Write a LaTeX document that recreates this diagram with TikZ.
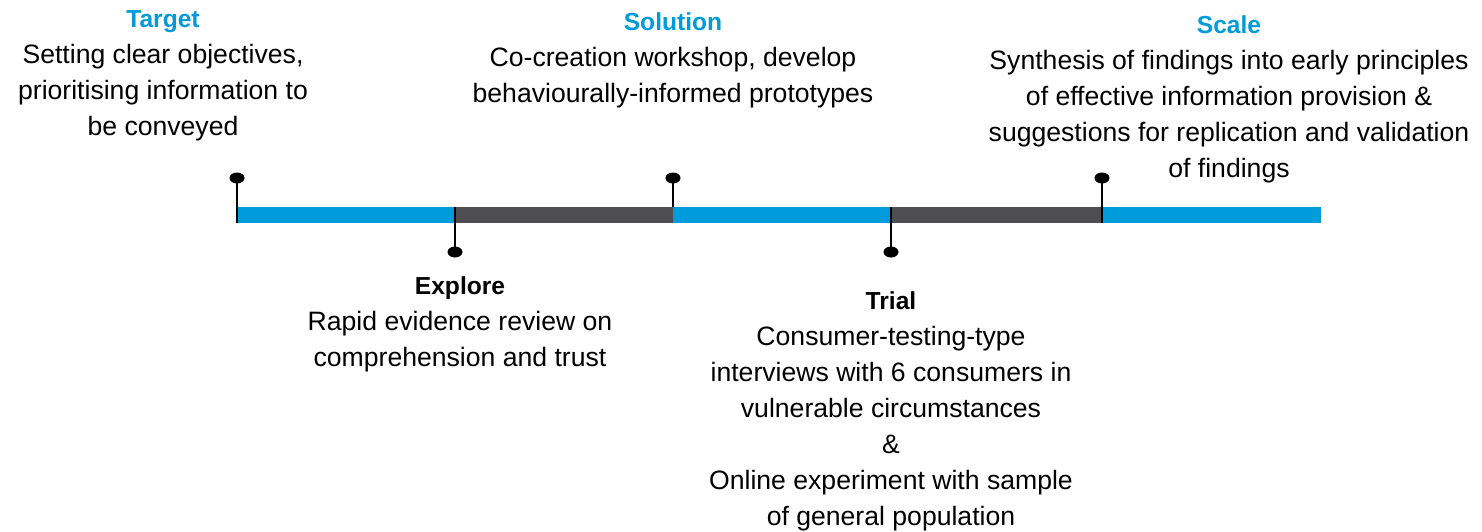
\documentclass[tikz,border=0pt]{standalone}
\usepackage{fontspec}
\setmainfont{Liberation Sans}
\usetikzlibrary{positioning,shapes.geometric}
\definecolor{stepblue}{RGB}{0,155,219}
\definecolor{stepgray}{RGB}{77,77,82}
\newcommand{\stagetitle}[1]{{\fontsize{12.3}{18}\selectfont\bfseries #1}}
\tikzset{
  pindot/.style = {ellipse, fill = black, inner sep = 0pt,
                   minimum width = 7.5pt, minimum height = 5.5pt},
  pinline/.style = {line width = 1pt, draw = black},
  stage/.style = {align = center, inner sep = 0pt, anchor = base,
                  font = \fontsize{13.3}{18}\selectfont}
}
\begin{document}
\begin{tikzpicture}[x = 0.5pt, y = -0.5pt]
            \useasboundingbox (0, 0) rectangle (1482, 531);

            % timeline bar
            \fill [stepblue] (237, 207) rectangle (455, 223);
            \fill [stepgray] (455, 207) rectangle (673, 223);
            \fill [stepblue] (673, 207) rectangle (891, 223);
            \fill [stepgray] (891, 207) rectangle (1102, 223);
            \fill [stepblue] (1102, 207) rectangle (1321, 223);

            % pins
            \foreach \x/\y/\e [count = \i] in
                  {237/178/223, 455/252/207, 673/178/207,
                   891/252/207, 1102/178/223} {
                \coordinate (bar\i) at (\x, \e);
                \node [pindot] (pin\i) at (\x, \y) {};
                \draw [pinline] (pin\i.center) -- (bar\i);
            }

            % texts, anchored at the baseline of their last line
            \node [stage] (target) at (163, 135)
                  {\textcolor{stepblue}{\stagetitle{Target}}\\
                   Setting clear objectives,\\
                   prioritising information to\\
                   be conveyed};

            \node [stage] (explore) at (460, 366)
                  {\stagetitle{Explore}\\
                   Rapid evidence review on\\
                   comprehension and trust};

            \node [stage] (solution) at (673, 102)
                  {\textcolor{stepblue}{\stagetitle{Solution}}\\
                   Co-creation workshop, develop\\
                   behaviourally-informed prototypes};

            \node [stage] (trial) at (891, 525)
                  {\stagetitle{Trial}\\
                   Consumer-testing-type\\
                   interviews with 6 consumers in\\
                   vulnerable circumstances\\
                   \&\\
                   Online experiment with sample\\
                   of general population};

            \node [stage] (scale) at (1229, 177)
                  {\textcolor{stepblue}{\stagetitle{Scale}}\\
                   Synthesis of findings into early principles\\
                   of effective information provision \&\\
                   suggestions for replication and validation\\
                   of findings};
        \end{tikzpicture}
\end{document}
